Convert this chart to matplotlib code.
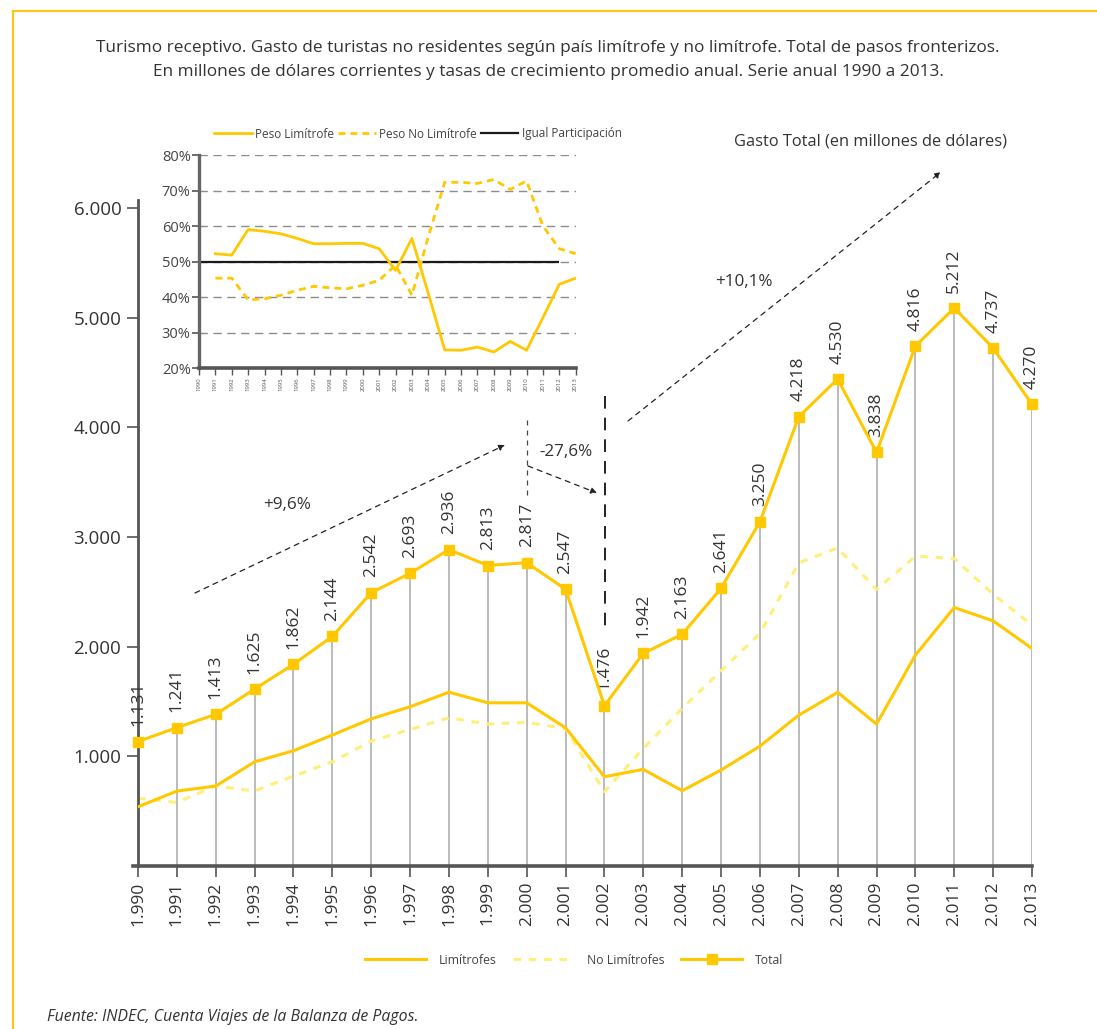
import matplotlib
matplotlib.use("Agg")
import matplotlib.pyplot as plt
from matplotlib.lines import Line2D

# ---------------- data ----------------
years = list(range(1990, 2014))
year_labels = ["1.990", "1.991", "1.992", "1.993", "1.994", "1.995", "1.996", "1.997",
               "1.998", "1.999", "2.000", "2.001", "2.002", "2.003", "2.004", "2.005",
               "2.006", "2.007", "2.008", "2.009", "2.010", "2.011", "2.012", "2.013"]
# Total as drawn (marker positions)
total = [1135, 1262, 1383, 1614, 1839, 2094, 2492, 2669, 2885, 2740, 2766, 2523,
         1462, 1939, 2113, 2532, 3139, 4097, 4440, 3772, 4741, 5088, 4723, 4210]
# Total as labelled
total_labels = ["1.131", "1.241", "1.413", "1.625", "1.862", "2.144", "2.542", "2.693",
                "2.936", "2.813", "2.817", "2.547", "1.476", "1.942", "2.163", "2.641",
                "3.250", "4.218", "4.530", "3.838", "4.816", "5.212", "4.737", "4.270"]
limitrofes = [540, 683, 729, 950, 1051, 1194, 1342, 1452, 1585, 1488, 1488, 1260,
              814, 881, 686, 875, 1093, 1376, 1583, 1294, 1923, 2357, 2235, 1984]
no_limitrofes = [617, 580, 729, 683, 820, 950, 1139, 1245, 1351, 1294, 1309, 1254,
                 677, 1072, 1437, 1780, 2120, 2764, 2900, 2521, 2825, 2804, 2478, 2196]
yticks_main = [1000, 2000, 3000, 4000, 5000, 6000]
ytick_labels_main = ["1.000", "2.000", "3.000", "4.000", "5.000", "6.000"]

# inset: shares (%)
inset_years = list(range(1991, 2014))
peso_lim = [52.2, 51.8, 59.0, 58.5, 57.8, 56.5, 55.0, 55.0, 55.1, 55.1, 53.6, 47.5,
            56.5, 41.0, 25.1, 25.0, 25.9, 24.5, 27.5, 25.0, 34.2, 43.6, 45.3]
peso_nolim = [45.3, 45.3, 39.2, 39.5, 40.5, 41.9, 43.0, 42.6, 42.3, 43.3, 44.7, 49.0,
              40.5, 57.0, 72.3, 72.3, 72.0, 73.1, 70.3, 72.7, 60.0, 53.6, 52.2]
igual_level = 50
igual_years = [1990, 2012]
inset_yticks = [20, 30, 40, 50, 60, 70, 80]
inset_ytick_labels = ["20%", "30%", "40%", "50%", "60%", "70%", "80%"]

# ---------------- style ----------------
W, H = 1097, 1029
GOLD = "#FFC800"
PALE = "#FFEF7A"
TXT = "#333333"
plt.rcParams["font.family"] = ["Open Sans", "DejaVu Sans"]

def px(x, y):
    return (x / W, 1 - y / H)

fig = plt.figure(figsize=(W / 100, H / 100), dpi=100)

# frame lines
fig.add_artist(Line2D([13 / W, 1], [1 - 11 / H] * 2, color="#FFC61A", lw=1.6))
fig.add_artist(Line2D([13 / W] * 2, [1 - 11 / H, 0], color="#FFC61A", lw=1.6))

# title
fig.text(0.4995, 1 - 60 / H,
         "Turismo receptivo. Gasto de turistas no residentes según país limítrofe y no limítrofe. Total de pasos fronterizos.\n"
         "En millones de dólares corrientes y tasas de crecimiento promedio anual. Serie anual 1990 a 2013.",
         ha="center", va="center", fontsize=12.4, color=TXT, linespacing=1.6)

# ---------------- main axes ----------------
x0, x1 = 138, 1032
y0 = 866
ppu = (866 - 208) / 6000.0
ytop = (y0 - 200) / ppu
ax = fig.add_axes([x0 / W, 1 - y0 / H, (x1 - x0) / W, (y0 - 200) / H])
ax.set_xlim(1990, 2013)
ax.set_ylim(0, ytop)

ax.vlines(years, 0, total, color="#a8a8a8", lw=1.1, zorder=1)
ax.plot(years, limitrofes, color=GOLD, lw=2.2, zorder=3, label="Limítrofes")
ax.plot(years, no_limitrofes, color=PALE, lw=2.2, ls=(0, (2.5, 2.5)), zorder=2,
        label="No Limítrofes")
ax.plot(years, total, color=GOLD, lw=2.2, marker="s", ms=6.5, zorder=4, label="Total",
        clip_on=False)

for xv, yv, lab in zip(years, total, total_labels):
    ax.annotate(lab, (xv, yv), xytext=(0, 11), textcoords="offset points",
                rotation=90, ha="center", va="bottom", fontsize=12.5, color=TXT)

ax.set_xticks(years)
ax.set_xticklabels(year_labels, rotation=90, fontsize=12.5, color=TXT)
ax.set_yticks(yticks_main)
ax.set_yticklabels(ytick_labels_main, fontsize=13.5, color=TXT)
ax.tick_params(axis="x", direction="out", length=8, width=1.2, color="#555555", pad=3)
ax.tick_params(axis="y", direction="out", length=8, width=1.2, color="#555555", pad=4)
for s in ["top", "right"]:
    ax.spines[s].set_visible(False)
ax.spines["left"].set_color("#555555")
ax.spines["left"].set_linewidth(2.0)
ax.spines["bottom"].set_color("#555555")
ax.spines["bottom"].set_linewidth(2.6)
ax.spines["bottom"].set_bounds(1989.86, 2013)
ax.patch.set_alpha(0)

# bottom legend
fig.legend(*ax.get_legend_handles_labels(), loc="center", bbox_to_anchor=px(574, 960),
           ncol=3, frameon=False, fontsize=8.8, handlelength=5.0, handletextpad=1.0,
           columnspacing=1.4, labelcolor="#444444")

# ---------------- annotations ----------------
arr = dict(arrowstyle="-|>", lw=0.9, color="#222222", ls=(0, (4, 4)),
           mutation_scale=9, shrinkA=0, shrinkB=0)
ax.annotate("", xy=px(505, 445), xytext=px(195, 593), xycoords="figure fraction",
            textcoords="figure fraction", arrowprops=arr)
ax.annotate("", xy=px(597, 493), xytext=px(528, 466), xycoords="figure fraction",
            textcoords="figure fraction", arrowprops=arr)
ax.annotate("", xy=px(941, 172), xytext=px(628, 421), xycoords="figure fraction",
            textcoords="figure fraction", arrowprops=arr)
fig.add_artist(Line2D([527 / W] * 2, [1 - 420 / H, 1 - 496 / H], color="#444444",
                      lw=0.9, ls=(0, (4, 4))))
fig.add_artist(Line2D([605 / W] * 2, [1 - 396 / H, 1 - 633 / H], color="#111111",
                      lw=1.3, ls=(0, (7, 5))))
fig.text(*px(287, 505), "+9,6%", fontsize=12.3, color=TXT, ha="center", va="center")
fig.text(*px(566, 452), "-27,6%", fontsize=12.3, color=TXT, ha="center", va="center")
fig.text(*px(744, 282), "+10,1%", fontsize=12.3, color=TXT, ha="center", va="center")
fig.text(*px(870, 141), "Gasto Total (en millones de dólares)", fontsize=11.8,
         color=TXT, ha="center", va="center")

# footer
fig.text(*px(47, 1017), "Fuente: INDEC, Cuenta Viajes de la Balanza de Pagos.",
         fontsize=11.4, style="italic", color=TXT, ha="left", va="center")

# ---------------- inset ----------------
ix0, ix1, iy0, iy1 = 199, 575.7, 368, 155
axi = fig.add_axes([ix0 / W, 1 - iy0 / H, (ix1 - ix0) / W, (iy0 - iy1) / H])
axi.set_xlim(1990, 2013)
axi.set_ylim(20, 80)
for gv in inset_yticks[1:]:
    axi.axhline(gv, color="#8c8c8c", lw=1.0, ls=(0, (6, 4)), zorder=1)
axi.hlines(igual_level, igual_years[0], igual_years[1], color="#1a1a1a", lw=1.6, zorder=2)
l1, = axi.plot(inset_years, peso_lim, color=GOLD, lw=2.0, zorder=3)
l2, = axi.plot(inset_years, peso_nolim, color=GOLD, lw=2.0, ls=(0, (2.5, 1.8)), zorder=3)
l3 = Line2D([], [], color="#1a1a1a", lw=1.6)
axi.set_xticks(list(range(1990, 2014)))
axi.set_xticklabels([str(y) for y in range(1990, 2014)], rotation=90, fontsize=4.3,
                    color="#555555")
axi.set_yticks(inset_yticks)
axi.set_yticklabels(inset_ytick_labels, fontsize=10.5, color="#444444")
axi.tick_params(axis="x", direction="out", length=5, width=1, color="#555555", pad=2)
axi.tick_params(axis="y", direction="out", length=5, width=1.2, color="#555555", pad=1)
for s in ["top", "right"]:
    axi.spines[s].set_visible(False)
axi.spines["left"].set_color("#666666")
axi.spines["left"].set_linewidth(2.4)
axi.spines["bottom"].set_color("#555555")
axi.spines["bottom"].set_linewidth(2.6)
axi.patch.set_alpha(0)

fig.legend([l1, l2, l3], ["Peso Limítrofe", "Peso No Limítrofe", "Igual Participación"],
           loc="center", bbox_to_anchor=px(418, 134), ncol=3, frameon=False, fontsize=8.5,
           handlelength=3.2, handletextpad=0.3, columnspacing=0.3, labelcolor="#444444")

fig.savefig("out.png", dpi=100)
